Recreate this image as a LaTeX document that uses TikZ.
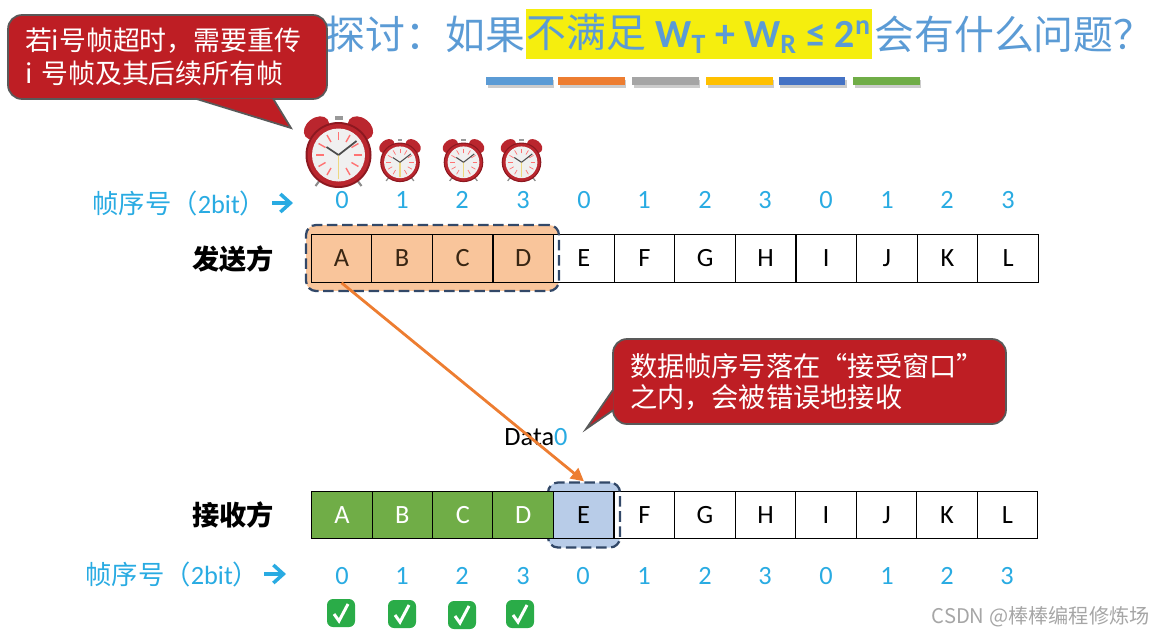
\documentclass[tikz,border=0pt]{standalone}
\usepackage{fontspec}
\usepackage{tikz}
\usetikzlibrary{arrows.meta,positioning,shadows,calc}
\setmainfont{Carlito}
\newfontfamily\cjk{Noto Sans CJK SC}
\definecolor{titleblue}{RGB}{91,155,213}
\definecolor{seqblue}{RGB}{41,171,226}
\definecolor{markyellow}{RGB}{245,238,14}
\definecolor{tipred}{RGB}{190,30,36}
\definecolor{tipedge}{RGB}{89,89,89}
\definecolor{sendfill}{RGB}{249,197,155}
\definecolor{recvfill}{RGB}{184,204,232}
\definecolor{donegreen}{RGB}{112,173,71}
\definecolor{windash}{RGB}{50,72,104}
\definecolor{arroworange}{RGB}{237,125,49}
\definecolor{bargray}{RGB}{165,165,165}
\definecolor{baramber}{RGB}{255,192,0}
\definecolor{barblue}{RGB}{68,114,196}
\definecolor{checkgreen}{RGB}{42,172,72}
\definecolor{clockred}{RGB}{186,38,46}
\definecolor{clockdark}{RGB}{140,24,32}
\tikzset{
alarmclock/.pic={
\draw[clocksteel] (-17,26)--(-23,34);
\draw[clocksteel] (17,26)--(23,34);
\fill[clockred,rotate around={38:(-22,-24)}] (-22,-24) ellipse (14 and 10);
\fill[clockred,rotate around={-38:(22,-24)}] (22,-24) ellipse (14 and 10);
\fill[black!40] (-4,-36) rectangle (4,-32);
\fill[clockdark] (0,3) circle (33);
\fill[clockred] (0,3) circle (31);
\fill[black!6] (0,3) circle (26.5);
\foreach \a in {0,30,...,330}
\draw[clocktick] ($(0,3)+(\a:15)$)--($(0,3)+(\a:23)$);
\draw[clockpen,yellow!50!brown!60!white] (0,3)--(0,27);
\draw[clockpen,black!70] (0,3)--(-12,-5);
\draw[clockpen,black!70] (0,3)--(18,-11);
},
checkmark/.pic={
\fill[checkgreen,rounded corners=1.2mm] (-14,-14) rectangle (14,14);
\draw[white,line width=1.7pt] (-7,1)--(-2,8)--(7,-9);
}}
\begin{document}
\begin{tikzpicture}[x=0.02cm,y=-0.02cm,
cell/.style={draw=black,line width=.6pt,fill=white,minimum width=1.212cm,minimum height=.95cm,inner sep=0pt,font=\fontsize{15}{15}\selectfont},
seqnum/.style={text=seqblue,inner sep=0pt,font=\fontsize{15}{15}\selectfont},
seqtext/.style={text=seqblue,inner sep=0pt,font=\fontsize{15}{15}\selectfont},
seqarrow/.style={seqblue,line width=2pt,-{Straight Barb[length=2mm,width=3.6mm]}},
party/.style={inner sep=0pt,font=\cjk\bfseries\fontsize{15.5}{15.5}\selectfont},
title/.style={text=titleblue,inner sep=0pt,font=\cjk\fontsize{22.7}{22.7}\selectfont},
bar/.style={minimum width=1.33cm,minimum height=.17cm,inner sep=0pt,drop shadow={shadow xshift=.3mm,shadow yshift=-.6mm,opacity=.4}},
tipbox/.style={draw=tipedge,line width=1pt,fill=tipred,text=white,rounded corners=.28cm,align=left,inner sep=0pt},
tippoint/.style={draw=tipedge,line width=1pt,fill=tipred},
winfill/.style={rounded corners=.2cm,minimum width=#1,inner sep=0pt},
windashed/.style={draw=windash,line width=1.3pt,dash pattern=on 6pt off 2.6pt,rounded corners=.2cm,minimum width=#1,inner sep=0pt},
clocksteel/.style={black!45,line width=1.2pt},
clockpen/.style={line width=1pt},
clocktick/.style={red!55!white,line width=.8pt},
smallclock/.style={scale=.6,clockpen/.style={line width=.6pt},clocktick/.style={red!55!white,line width=.4pt},clocksteel/.style={black!45,line width=.7pt}}]
\useasboundingbox (0,0) rectangle (1153,636);
% Title
\node[fill=markyellow,minimum width=6.92cm,minimum height=1cm,inner sep=0pt,title] (titlekey) at (699,34)
{不满足 {\fontspec{Carlito}\bfseries W\textsubscript{T} + W\textsubscript{R} ≤ 2\textsuperscript{n}}};
\node[title,left=0pt of titlekey] (titleleft) {探讨：如果};
\node[title,right=1pt of titlekey] (titleright) {会有什么问题？};
\foreach \barcol/\xpos [count=\i] in {titleblue/519.5,arroworange/591.5,bargray/665.5,baramber/739.5,barblue/812,donegreen/886.5}
\node[bar,fill=\barcol] (bar\i) at (\xpos,81) {};
% Timeout tip
\node[tipbox,minimum width=6.38cm,minimum height=1.68cm,text width=5.7cm,font=\cjk\fontsize{15.3}{18.6}\selectfont] (warn) at (167.5,57)
{若i号帧超时，需要重传\\i 号帧及其后续所有帧};
\coordinate (warntip) at (291,128);
\draw[tippoint] (195,98.5)--(warntip)--(273,98.5);
% Clocks
\pic (clockbig) at (338.5,152) {alarmclock};
\pic[smallclock] (clockb) at (400,160.5) {alarmclock};
\pic[smallclock] (clockc) at (463.5,160.5) {alarmclock};
\pic[smallclock] (clockd) at (521.5,160.5) {alarmclock};
% Sender
\node[seqtext,anchor=west] (sendlabel) at (92,203) {{\cjk 帧序号（}2bit{\cjk ）}};
\coordinate (sendarrow) at (293,203);
\draw[seqarrow] (272,203)--(sendarrow);
\foreach \num/\xpos [count=\i] in {0/342,1/402,2/462,3/523,0/584,1/644,2/705,3/765,0/826,1/887,2/947,3/1008}
\node[seqnum] (snum\i) at (\xpos,200) {\num};
\node[party] (sender) at (233,259) {发送方};
\node[winfill=5.06cm,minimum height=1.32cm,fill=sendfill] (swinfill) at (432.5,258) {};
\foreach \letter [count=\i from 0] in {A,B,C,D}
\node[cell,fill=none,text=black!70!brown] (s\letter) at ({341.5+60.6*\i},258.5) {\letter};
\foreach \letter [count=\i from 4] in {E,...,L}
\node[cell] (s\letter) at ({341.5+60.6*\i},258.5) {\letter};
\node[windashed=5.06cm,minimum height=1.32cm] (swin) at (432.5,258) {};
% Receiver
\node[party] (receiver) at (233,515) {接收方};
\node[winfill=1.44cm,minimum height=1.3cm,fill=recvfill] (rwinfill) at (584,515) {};
\foreach \letter [count=\i from 5] in {F,...,L}
\node[cell] (r\letter) at ({342+60.5*\i},515) {\letter};
\node[windashed=1.44cm,minimum height=1.3cm] (rwin) at (584,515) {};
\foreach \letter [count=\i from 0] in {A,B,C,D}
\node[cell,fill=donegreen,text=white] (r\letter) at ({342+60.4*\i},515) {\letter};
\node[cell,fill=none] (rE) at (583.6,515) {E};
\node[seqtext,anchor=west] (recvlabel) at (85,574) {{\cjk 帧序号（}2bit{\cjk ）}};
\coordinate (recvarrow) at (286,574);
\draw[seqarrow] (264,574)--(recvarrow);
\foreach \num/\xpos [count=\i] in {0/342,1/402,2/462,3/523,0/583,1/644,2/705,3/765,0/826,1/887,2/947,3/1007}
\node[seqnum] (rnum\i) at (\xpos,576) {\num};
\pic (checka) at (341,613) {checkmark};
\pic (checkb) at (402,614) {checkmark};
\pic (checkc) at (462,615) {checkmark};
\pic (checkd) at (520,614) {checkmark};
% Frame in flight
\node[seqnum,text=black] (datalabel) at (536,437) {Data\textcolor{seqblue}{0}};
\draw[arroworange,line width=1.6pt,-{Triangle[length=2.6mm,width=2.6mm]}] (sA.south)--(rwin.north);
% Error tip
\node[tipbox,minimum width=7.86cm,minimum height=1.7cm,text width=7.18cm,font=\cjk\fontsize{15.5}{17.6}\selectfont] (errtip) at (809.5,381.5)
{数据帧序号落在“接受窗口”\\之内，会被错误地接收};
\coordinate (errpoint) at (586,429);
\draw[tippoint] (613.5,389)--(errpoint)--(613.5,410);
% Watermark
\node[inner sep=0pt,text=black!35,font=\cjk\fontsize{11.5}{11.5}\selectfont,anchor=east] (mark) at (1150,617) {CSDN @棒棒编程修炼场};
\end{tikzpicture}
\end{document}
